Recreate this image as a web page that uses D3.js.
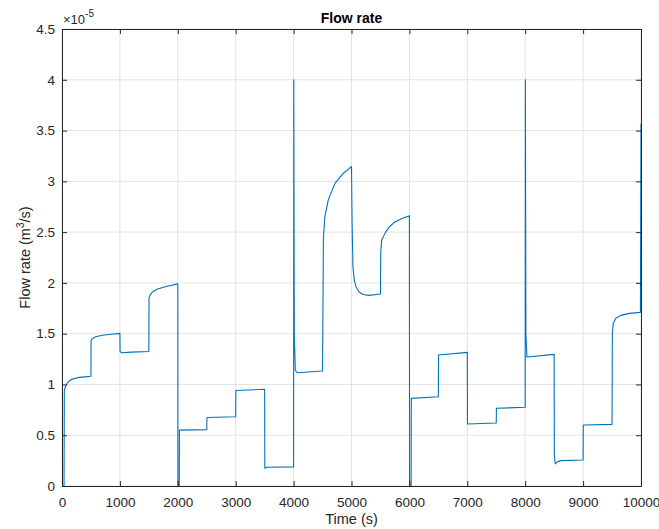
<!DOCTYPE html>
<html>
<head>
<meta charset="utf-8">
<script src="https://cdn.jsdelivr.net/npm/d3@7"></script>
<style>
  body { margin: 0; background: #fff; }
  text { font-family: "Liberation Sans", Arial, sans-serif; }
</style>
</head>
<body>
<svg id="chart" width="659" height="529"></svg>
<script>
"use strict";

//Time samples (s) and flow rate (x 1e-5 m3/s)
var times = [
  0, 35, 40, 60, 100, 150, 225, 300, 400, 500,
  502, 520, 580, 700, 850, 1000,
  1003, 1030, 1200, 1500,
  1503, 1520, 1560, 1650, 1800, 2000,
  2002, 2025, 2028, 2500,
  2503, 3000,
  3003, 3500,
  3503, 3540, 4000,
  4003, 4012, 4030, 4060, 4500,
  4505, 4515, 4540, 4600, 4715, 4860, 5000,
  5010, 5025, 5050, 5080, 5130, 5200, 5300, 5500,
  5505, 5520, 5580, 5650, 5750, 5870, 6000,
  6003, 6030, 6033, 6500,
  6503, 7000,
  7003, 7500,
  7503, 8000,
  8003, 8012, 8030, 8500,
  8503, 8520, 8560, 8620, 9000,
  9003, 9500,
  9505, 9520, 9560, 9650, 9800, 9990, 10000
];
var flow = [
  0, 0, 0.94, 0.98, 1.02, 1.045, 1.06, 1.07, 1.075, 1.08,
  1.43, 1.45, 1.47, 1.485, 1.495, 1.503,
  1.325, 1.312, 1.318, 1.325,
  1.85, 1.88, 1.91, 1.94, 1.965, 1.99,
  0, 0, 0.55, 0.555,
  0.675, 0.682,
  0.94, 0.952,
  0.175, 0.185, 0.188,
  4.0, 1.5, 1.14, 1.115, 1.132,
  1.6, 2.45, 2.65, 2.82, 2.98, 3.08, 3.145,
  2.6, 2.15, 2.02, 1.96, 1.91, 1.885, 1.877, 1.89,
  2.3, 2.42, 2.49, 2.55, 2.6, 2.635, 2.66,
  0, 0, 0.863, 0.879,
  1.29, 1.316,
  0.61, 0.62,
  0.765, 0.775,
  4.0, 1.5, 1.27, 1.296,
  0.3, 0.217, 0.24, 0.25, 0.256,
  0.60, 0.607,
  1.50, 1.60, 1.65, 1.68, 1.70, 1.71, 3.57
];
var xTicks = [0, 1000, 2000, 3000, 4000, 5000, 6000, 7000, 8000, 9000, 10000];
var yTicks = [0, 0.5, 1, 1.5, 2, 2.5, 3, 3.5, 4, 4.5];

var svg = d3.select("#chart"),
    margin = {top: 29, right: 18, bottom: 43, left: 62},
    width = +svg.attr("width") - margin.left - margin.right,
    height = +svg.attr("height") - margin.top - margin.bottom,
    g = svg.append("g").attr("transform", "translate(" + margin.left + "," + margin.top + ")");

var x = d3.scaleLinear().domain([0, 10000]).range([0, width]);
var y = d3.scaleLinear().domain([0, 4.5]).range([height, 0]);

var axisCol = "#262626";
var gridCol = "#e3e3e3";

//Grid lines
g.append("g").selectAll("line")
  .data(xTicks).enter().append("line")
    .attr("x1", function(d) { return x(d); })
    .attr("x2", function(d) { return x(d); })
    .attr("y1", 0).attr("y2", height)
    .attr("stroke", gridCol);
g.append("g").selectAll("line")
  .data(yTicks).enter().append("line")
    .attr("y1", function(d) { return y(d); })
    .attr("y2", function(d) { return y(d); })
    .attr("x1", 0).attr("x2", width)
    .attr("stroke", gridCol);

//The flow rate curve
svg.append("clipPath").attr("id", "clip")
  .append("rect").attr("width", width + 1).attr("height", height + 1).attr("y", -0.5);

var pts = times.map(function(t, i) { return [t, flow[i]]; });
g.append("path")
  .datum(pts)
  .attr("clip-path", "url(#clip)")
  .attr("fill", "none")
  .attr("stroke", "#0072BD")
  .attr("stroke-width", 1.1)
  .attr("stroke-linejoin", "round")
  .attr("d", d3.line()
    .x(function(d) { return x(d[0]); })
    .y(function(d) { return y(d[1]); }));

//Axes, ticks pointing inward on the four sides
function styleAxis(sel) {
  sel.select(".domain").attr("stroke", axisCol);
  sel.selectAll(".tick line").attr("stroke", axisCol);
  sel.selectAll(".tick text")
    .attr("fill", axisCol)
    .attr("font-size", "13.5px")
    .attr("font-family", "'Liberation Sans', Arial, sans-serif");
}

g.append("g")
  .attr("transform", "translate(0," + height + ")")
  .call(d3.axisBottom(x).tickValues(xTicks).tickSize(-5).tickSizeOuter(0).tickPadding(11)
    .tickFormat(d3.format("d")))
  .call(styleAxis);

g.append("g")
  .call(d3.axisLeft(y).tickValues(yTicks).tickSize(-5).tickSizeOuter(0).tickPadding(7)
    .tickFormat(function(d) { return String(d); }))
  .call(styleAxis);

g.append("g")
  .call(d3.axisTop(x).tickValues(xTicks).tickSize(-5).tickSizeOuter(0).tickFormat(""))
  .call(styleAxis);

g.append("g")
  .attr("transform", "translate(" + width + ",0)")
  .call(d3.axisRight(y).tickValues(yTicks).tickSize(-5).tickSizeOuter(0).tickFormat(""))
  .call(styleAxis);

//Exponent label
var ex = g.append("text")
  .attr("x", 1)
  .attr("y", -5)
  .attr("fill", axisCol)
  .attr("font-size", "13px")
  .text("\u00d710");
ex.append("tspan")
  .attr("font-size", "10px")
  .attr("dy", "-7")
  .text("-5");

//Title and axis labels
svg.append("text")
  .attr("x", margin.left + width / 2)
  .attr("y", 22.5)
  .attr("text-anchor", "middle")
  .attr("font-size", "14px")
  .attr("font-weight", "bold")
  .attr("fill", "#000")
  .text("Flow rate");

svg.append("text")
  .attr("x", margin.left + width / 2)
  .attr("y", 524)
  .attr("text-anchor", "middle")
  .attr("font-size", "14.5px")
  .attr("fill", axisCol)
  .text("Time (s)");

var yl = svg.append("text")
  .attr("transform", "translate(30," + (margin.top + height / 2) + ") rotate(-90)")
  .attr("text-anchor", "middle")
  .attr("font-size", "14.5px")
  .attr("fill", axisCol);
yl.append("tspan").text("Flow rate (m");
yl.append("tspan").attr("font-size", "10px").attr("dy", "-6").text("3");
yl.append("tspan").attr("dy", "6").text("/s)");
</script>
</body>
</html>
